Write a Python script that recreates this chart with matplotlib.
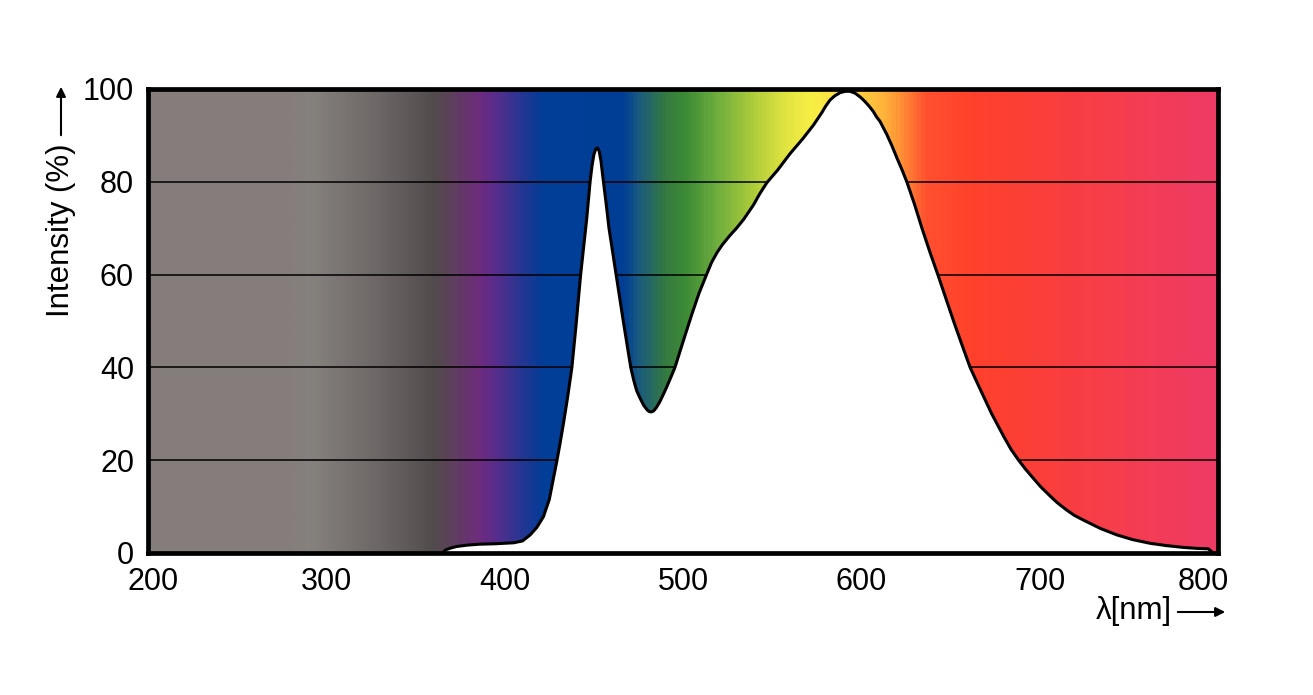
import numpy as np
import matplotlib
matplotlib.use("Agg")
import matplotlib.pyplot as plt
from matplotlib.colors import LinearSegmentedColormap, to_rgb
from matplotlib.transforms import ScaledTranslation

plt.rcParams['font.family'] = ['Liberation Sans', 'DejaVu Sans']

# ---- data ----
wavelength = [365.1, 367, 370, 373, 379, 386, 395, 405, 410, 414.3, 418, 421.7, 425,
              429.2, 431, 433, 435.3, 437.7, 440, 442.6, 444.3, 446, 447.9, 449, 450,
              451, 452, 453, 454, 455.4, 457, 458.5, 460.5, 462.5, 464.5, 466.5,
              468.6, 470.7, 472.4, 474, 476, 478, 480, 481, 482.1, 483.5, 485, 487,
              489, 491, 493, 495.5, 497.7, 500, 502.5, 505, 509, 513.2, 516, 519,
              522, 526, 530, 534, 539.5, 543, 547, 553, 560.1, 567, 573.1, 578, 580,
              582.4, 585, 588, 591, 593.7, 596.5, 599.3, 601, 603, 605, 606.8, 608.5,
              610.5, 614.3, 617, 620, 622.8, 625.5, 629.7, 634, 638.5, 642.9, 647.3,
              651.7, 656.3, 661.0, 667, 673.1, 680, 684, 688.2, 692, 696, 700.5,
              705.8, 710, 715, 719.5, 724.5, 734, 743.3, 752, 761.8, 771, 780.7, 788,
              794.6, 797.3]
intensity = [0.0, 0.7, 1.1, 1.4, 1.7, 1.9, 2.0, 2.2, 2.6, 3.9, 5.5, 7.8, 11.5,
             19.7, 23.5, 28, 33.6, 40, 49, 60, 66, 72, 80, 83.5, 85.8,
             87, 87.3, 86.6, 84.5, 80, 75, 70, 65, 60, 55, 50,
             45, 40, 37.2, 35, 33.3, 31.8, 30.8, 30.5, 30.4, 30.6, 31.3, 32.6,
             34.2, 35.9, 37.7, 40, 42.7, 45.5, 48.5, 51.5, 56, 60, 62.6, 64.7,
             66.4, 68.3, 70, 71.9, 75.0, 77.4, 79.8, 82.5, 86.1, 89.2, 92.2, 95, 96.3,
             97.6, 98.5, 99.2, 99.5, 99.5, 99.1, 98.3, 97.7, 96.9, 96, 95.1, 94,
             93.0, 90.2, 87.9, 85.1, 82.6, 80, 75.3, 70, 64.8, 60, 55,
             50, 45, 40, 35, 30, 25, 22.3, 20, 18.1, 16.3, 14.3,
             12.3, 10.8, 9.3, 8.1, 7.1, 5.3, 3.9, 2.9, 2.1, 1.6, 1.2, 1.0,
             0.9, 0.0]
x_ticks = [200, 300, 400, 500, 600, 700, 800]
y_ticks = [0, 20, 40, 60, 80, 100]

# ---- background spectrum gradient (style) ----
grad_stops = [
    (200, '#857d7b'), (280, '#857e7c'), (290, '#86827e'), (330, '#6c6565'),
    (360, '#524b4d'), (366, '#5a4555'), (385, '#6e2b7d'), (394, '#5a2d8c'),
    (408, '#2a3592'), (422, '#003e98'), (467, '#003f96'), (475, '#1a5a80'),
    (490, '#357a40'), (501, '#3b8a35'), (518, '#6aab3e'), (537, '#a6c93b'),
    (556, '#dde23f'), (572, '#f8ef45'), (600, '#ffd040'), (614, '#ffb13a'),
    (624, '#ff8a35'), (637, '#ff5030'), (663, '#ff412b'), (711, '#f93e3e'),
    (750, '#f53d50'), (800, '#ef3a65')]
pos = [(w - 200) / 600 for w, _ in grad_stops]
cmap = LinearSegmentedColormap.from_list('spec', list(zip(pos, [to_rgb(c) for _, c in grad_stops])))

W, H = 1313, 695
fig = plt.figure(figsize=(W / 100, H / 100), dpi=100)
ax = fig.add_axes([148 / W, 1 - 553 / H, (1218 - 148) / W, (553 - 89) / H])

xmin, xmax = 200, 800
ax.imshow(np.linspace(0, 1, 1200)[None, :], cmap=cmap, aspect='auto',
          extent=[xmin, xmax, 0, 100], zorder=0, interpolation='bilinear')
for yv in y_ticks[1:-1]:
    ax.axhline(yv, color='black', lw=1.1, zorder=1)
ax.fill_between(wavelength, intensity, 0, color='white', lw=0, zorder=2)
ax.plot(wavelength, intensity, color='black', lw=2.2, zorder=3,
        solid_joinstyle='round', solid_capstyle='round')

ax.set_xlim(xmin, xmax)
ax.set_ylim(0, 100)
ax.set_xticks(x_ticks)
ax.set_yticks(y_ticks)
ax.tick_params(length=0, labelsize=22)
ax.tick_params(axis='y', pad=10)
ax.tick_params(axis='x', pad=10)
for s in ax.spines.values():
    s.set_linewidth(3.4)
    s.set_zorder(5)

xl = ax.get_xticklabels()
xl[0].set_transform(xl[0].get_transform() + ScaledTranslation(5 / 100, 0, fig.dpi_scale_trans))
xl[-1].set_transform(xl[-1].get_transform() + ScaledTranslation(-15 / 100, 0, fig.dpi_scale_trans))

# axis labels with arrows
fig.text(61 / W, 1 - 230 / H, 'Intensity (%)', rotation=90, ha='center', va='center', fontsize=22.5)
fig.patches.append(matplotlib.patches.FancyArrowPatch(
    (61 / W, 1 - 138 / H), (61 / W, 1 - 84 / H), transform=fig.transFigure,
    arrowstyle='-|>', mutation_scale=14, lw=1.5, color='black'))
fig.text(1134 / W, 1 - 611 / H, 'λ[nm]', ha='center', va='center', fontsize=22.5)
fig.patches.append(matplotlib.patches.FancyArrowPatch(
    (1175 / W, 1 - 612 / H), (1228 / W, 1 - 612 / H), transform=fig.transFigure,
    arrowstyle='-|>', mutation_scale=14, lw=1.5, color='black'))

fig.savefig('out.png', dpi=100, facecolor='white')
